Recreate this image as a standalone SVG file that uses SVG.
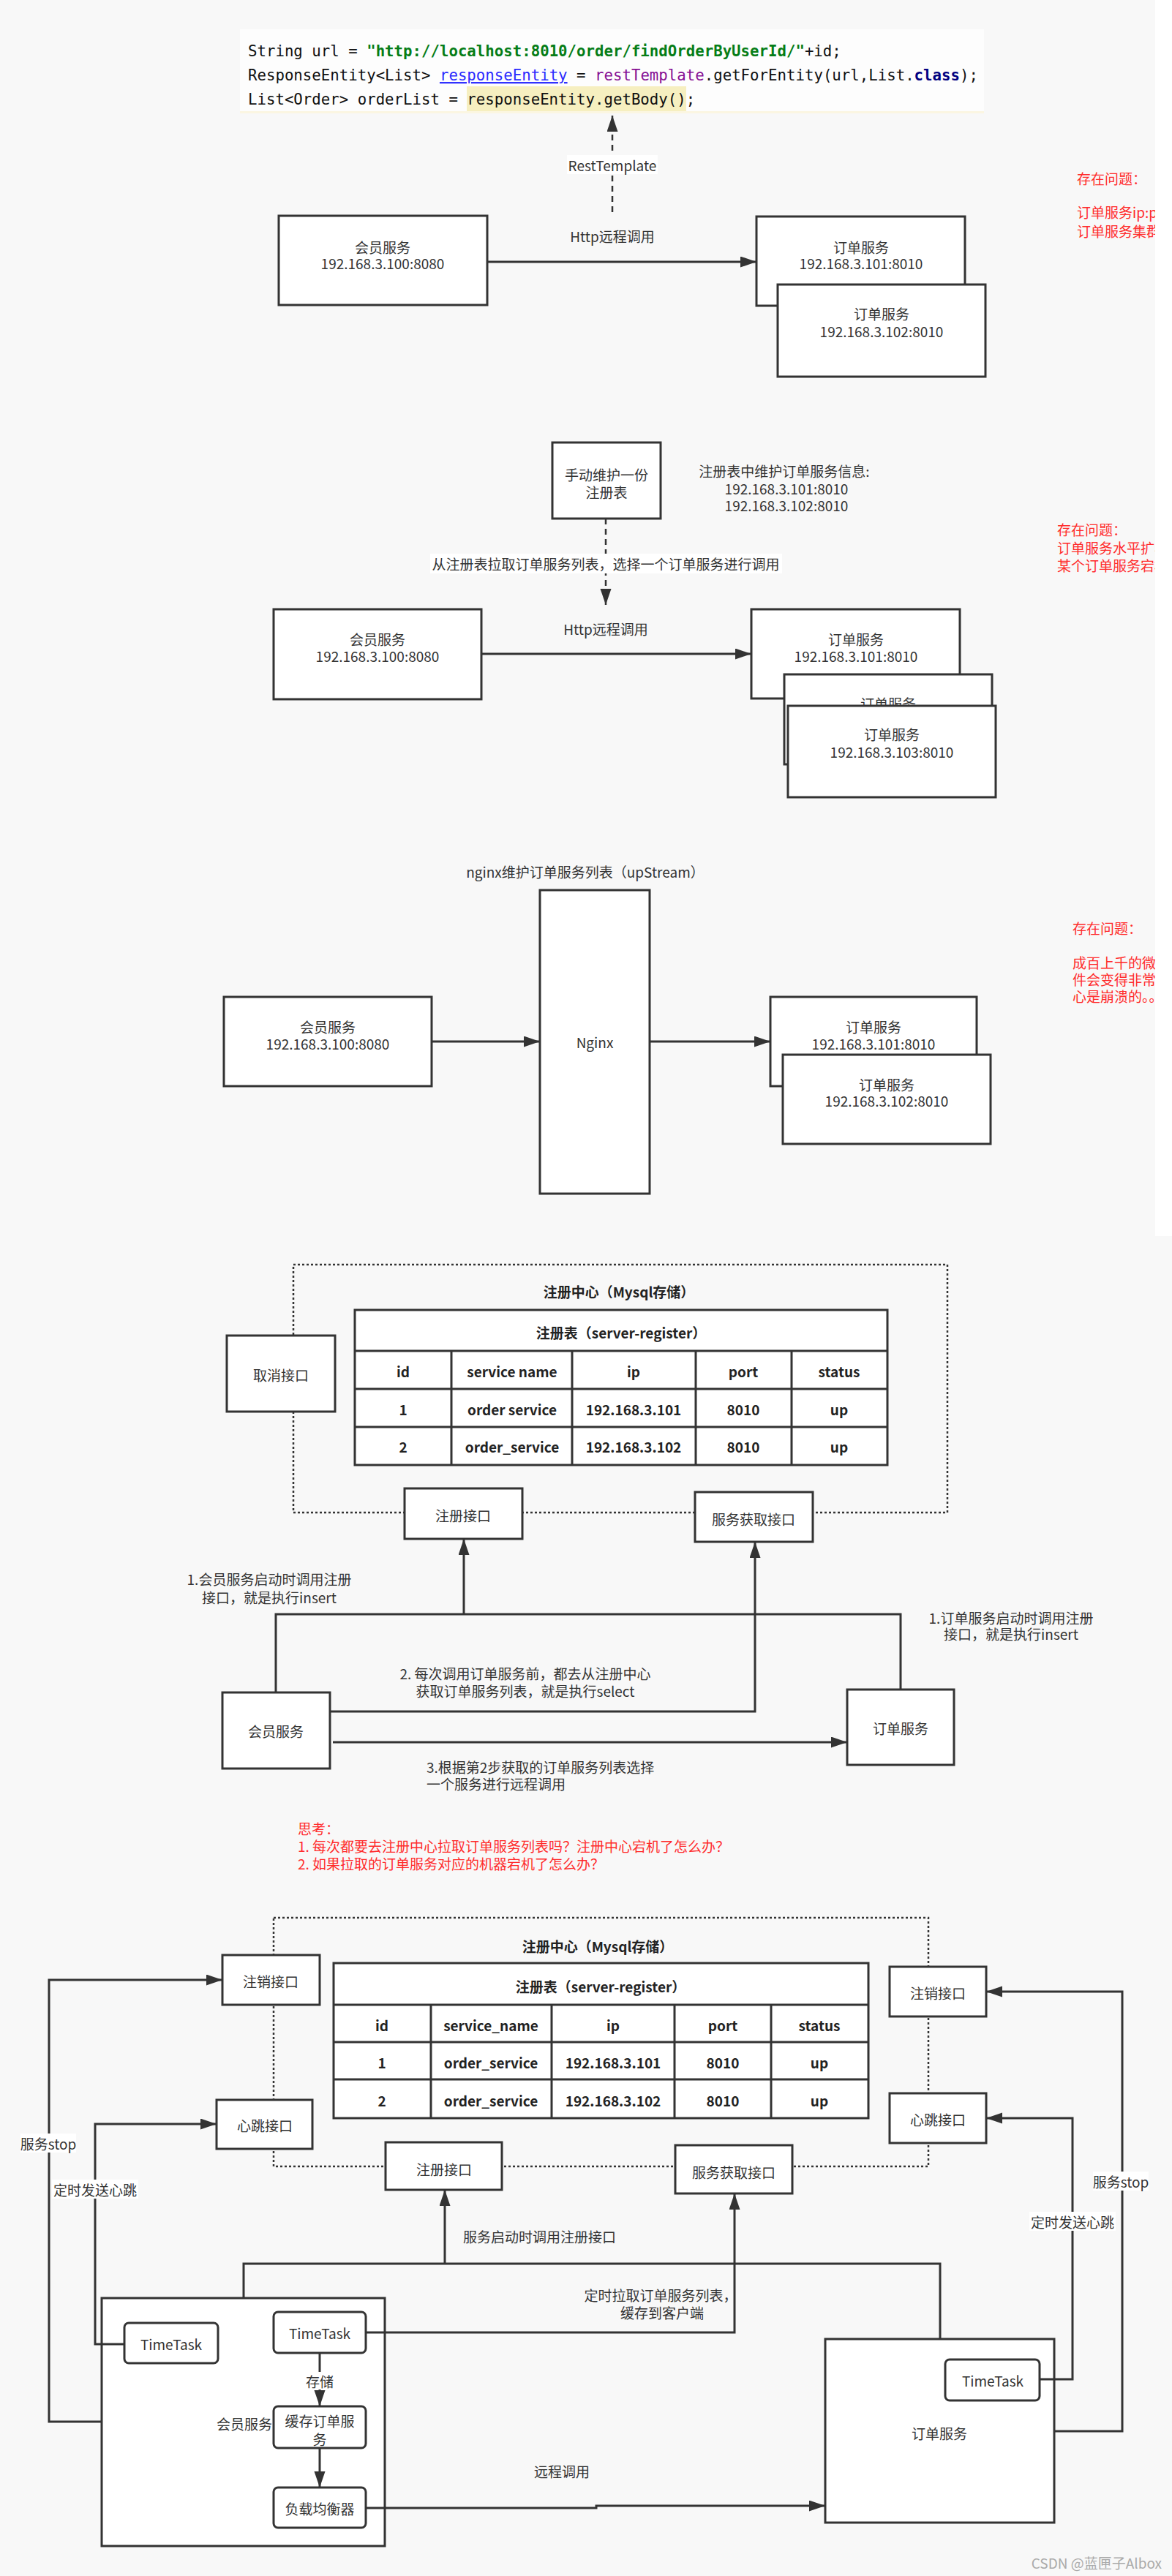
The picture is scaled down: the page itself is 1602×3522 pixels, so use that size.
<svg xmlns="http://www.w3.org/2000/svg" width="1602" height="3522" viewBox="0 0 1602 3522">
<defs>
<style>
.t{font-family:'Noto Sans CJK SC','Noto Sans',sans-serif;font-size:19px;fill:#333;text-anchor:middle;dominant-baseline:central}
.s{text-anchor:start}
.bd{font-weight:bold;fill:#222}
.red{fill:#ff2b2b}
.wm{fill:#aaa;text-anchor:end}
.box{fill:#fff;stroke:#333;stroke-width:3}
.rbox{fill:#fff;stroke:#333;stroke-width:3}
.ln{fill:none;stroke:#333;stroke-width:3}
.dot{fill:none;stroke:#333;stroke-width:2.5;stroke-dasharray:3 3}
.dash{fill:none;stroke:#333;stroke-width:2.5;stroke-dasharray:8 6}
.wb{fill:#fff}
.code{font-family:'DejaVu Sans Mono','Liberation Mono',monospace;font-size:22px;fill:#111}
</style>
<marker id="ah" markerWidth="24" markerHeight="16" refX="22" refY="7.5" orient="auto" markerUnits="userSpaceOnUse" viewBox="0 0 24 16"><path d="M0,0 L22,7.5 L0,15 z" fill="#333"/></marker>
</defs>
<rect width="1602" height="3522" fill="#f8f8f8"/>

<!-- ============ Section 1 ============ -->
<g id="code">
<rect x="328" y="40" width="1017" height="115" fill="#fdfdfd"/>
<rect x="638" y="118" width="300" height="34" fill="#f6efc0"/>
<rect x="328" y="152" width="1017" height="3" fill="#fbf6e2"/>
<g transform="translate(339,0) scale(0.9425,1)">
<text class="code" x="0" y="77">String url = <tspan fill="#067d17" font-weight="bold">"http://localhost:8010/order/findOrderByUserId/"</tspan>+id;</text>
<text class="code" x="0" y="110">ResponseEntity&lt;List&gt; <tspan fill="#2b2bff" text-decoration="underline">responseEntity</tspan> = <tspan fill="#871094">restTemplate</tspan>.getForEntity(url,List.<tspan fill="#000080" font-weight="bold">class</tspan>);</text>
<text class="code" x="0" y="143">List&lt;Order&gt; orderList = responseEntity.getBody();</text>
</g>
</g>

<g id="s1-member"><rect class="box" x="381" y="295" width="285" height="122"/><text class="t" x="523" y="337">会员服务</text><text class="t" x="523" y="359">192.168.3.100:8080</text></g>
<g id="s1-order1"><rect class="box" x="1034" y="296" width="285" height="122"/><text class="t" x="1177" y="337">订单服务</text><text class="t" x="1177" y="359">192.168.3.101:8010</text></g>
<g id="s1-order2"><rect class="box" x="1063" y="389" width="284" height="126"/><text class="t" x="1205" y="428">订单服务</text><text class="t" x="1205" y="452">192.168.3.102:8010</text></g>

<g id="s1-connectors">
<path class="dash" d="M837,290 V158" marker-end="url(#ah)"/>
<rect class="wb" x="775" y="212" width="124" height="26"/>
<text class="t" x="837" y="225">RestTemplate</text>
<path class="ln" d="M666,358 H1034" marker-end="url(#ah)"/>
<text class="t" x="837" y="322">Http远程调用</text>
</g>

<g id="s1-note">
<text class="t s red" x="1472" y="243">存在问题：</text>
<text class="t s red" x="1472" y="289">订单服务ip:p</text>
<text class="t s red" x="1472" y="315">订单服务集群</text>
</g>

<!-- ============ Section 2 ============ -->
<g id="s2-registry"><rect class="box" x="755" y="605" width="148" height="104"/><text class="t" x="829" y="648">手动维护一份</text><text class="t" x="829" y="672">注册表</text></g>
<g id="s2-info">
<text class="t" x="1072" y="643">注册表中维护订单服务信息:</text>
<text class="t" x="1075" y="667">192.168.3.101:8010</text>
<text class="t" x="1075" y="690">192.168.3.102:8010</text>
</g>
<g id="s2-member"><rect class="box" x="374" y="833" width="284" height="123"/><text class="t" x="516" y="873">会员服务</text><text class="t" x="516" y="896">192.168.3.100:8080</text></g>
<g id="s2-order1"><rect class="box" x="1027" y="833" width="285" height="122"/><text class="t" x="1170" y="873">订单服务</text><text class="t" x="1170" y="896">192.168.3.101:8010</text></g>
<g id="s2-order2"><rect class="box" x="1072" y="922" width="284" height="123"/><text class="t" x="1214" y="961">订单服务</text></g>
<g id="s2-order3"><rect class="box" x="1077" y="965" width="284" height="125"/><text class="t" x="1219" y="1003">订单服务</text><text class="t" x="1219" y="1027">192.168.3.103:8010</text></g>
<g id="s2-connectors">
<path class="dash" d="M828,709 V827" marker-end="url(#ah)"/>
<rect class="wb" x="588" y="757" width="481" height="27"/>
<text class="t" x="828" y="770">从注册表拉取订单服务列表，选择一个订单服务进行调用</text>
<path class="ln" d="M658,894 H1027" marker-end="url(#ah)"/>
<text class="t" x="828" y="859">Http远程调用</text>
</g>
<g id="s2-note">
<text class="t s red" x="1445" y="723">存在问题：</text>
<text class="t s red" x="1445" y="748">订单服务水平扩容</text>
<text class="t s red" x="1445" y="772">某个订单服务宕机</text>
</g>

<!-- ============ Section 3 ============ -->
<text class="t" x="800" y="1191">nginx维护订单服务列表（upStream）</text>
<g id="s3-nginx"><rect class="box" x="738" y="1217" width="150" height="415"/><text class="t" x="813" y="1424">Nginx</text></g>
<g id="s3-member"><rect class="box" x="306" y="1363" width="284" height="122"/><text class="t" x="448" y="1403">会员服务</text><text class="t" x="448" y="1426">192.168.3.100:8080</text></g>
<g id="s3-order1"><rect class="box" x="1053" y="1363" width="282" height="122"/><text class="t" x="1194" y="1403">订单服务</text><text class="t" x="1194" y="1426">192.168.3.101:8010</text></g>
<g id="s3-order2"><rect class="box" x="1070" y="1442" width="284" height="122"/><text class="t" x="1212" y="1482">订单服务</text><text class="t" x="1212" y="1504">192.168.3.102:8010</text></g>
<g id="s3-connectors">
<path class="ln" d="M590,1424 H738" marker-end="url(#ah)"/>
<path class="ln" d="M888,1424 H1053" marker-end="url(#ah)"/>
</g>
<g id="s3-note">
<text class="t s red" x="1466" y="1268">存在问题：</text>
<text class="t s red" x="1466" y="1315">成百上千的微服</text>
<text class="t s red" x="1466" y="1338">件会变得非常复</text>
<text class="t s red" x="1466" y="1361">心是崩溃的。。</text>
</g>
<rect x="1579" y="0" width="23" height="1690" fill="#fff"/>

<!-- ============ Section 4 ============ -->
<g id="s4-center">
<rect class="dot" x="401" y="1729" width="894" height="339"/>
<text class="t bd" x="846" y="1765">注册中心（Mysql存储）</text>
</g>
<g id="s4-table">
<rect class="box" x="485" y="1791" width="728" height="212"/>
<path class="ln" d="M485,1847 H1213 M485,1899 H1213 M485,1951 H1213 M617,1847 V2003 M782,1847 V2003 M951,1847 V2003 M1082,1847 V2003"/>
<text class="t bd" x="849" y="1821">注册表（server-register）</text>
<text class="t bd" x="551" y="1874">id</text><text class="t bd" x="700" y="1874">service name</text><text class="t bd" x="866" y="1874">ip</text><text class="t bd" x="1016" y="1874">port</text><text class="t bd" x="1147" y="1874">status</text>
<text class="t bd" x="551" y="1926">1</text><text class="t bd" x="700" y="1926">order service</text><text class="t bd" x="866" y="1926">192.168.3.101</text><text class="t bd" x="1016" y="1926">8010</text><text class="t bd" x="1147" y="1926">up</text>
<text class="t bd" x="551" y="1977">2</text><text class="t bd" x="700" y="1977">order_service</text><text class="t bd" x="866" y="1977">192.168.3.102</text><text class="t bd" x="1016" y="1977">8010</text><text class="t bd" x="1147" y="1977">up</text>
</g>
<g id="s4-cancel"><rect class="box" x="310" y="1826" width="148" height="104"/><text class="t" x="384" y="1879">取消接口</text></g>
<g id="s4-register"><rect class="box" x="553" y="2035" width="161" height="69"/><text class="t" x="633" y="2071">注册接口</text></g>
<g id="s4-fetch"><rect class="box" x="950" y="2040" width="161" height="68"/><text class="t" x="1030" y="2076">服务获取接口</text></g>
<g id="s4-member"><rect class="box" x="304" y="2314" width="147" height="104"/><text class="t" x="377" y="2366">会员服务</text></g>
<g id="s4-order"><rect class="box" x="1158" y="2310" width="146" height="103"/><text class="t" x="1231" y="2362">订单服务</text></g>
<g id="s4-connectors">
<path class="ln" d="M377,2314 V2207 H1231 V2310"/>
<path class="ln" d="M634,2207 V2104" marker-end="url(#ah)"/>
<path class="ln" d="M451,2340 H1032 V2108" marker-end="url(#ah)"/>
<path class="ln" d="M455,2382 H1158" marker-end="url(#ah)"/>
<text class="t" x="368" y="2158">1.会员服务启动时调用注册</text>
<text class="t" x="368" y="2183">接口，就是执行insert</text>
<text class="t" x="1382" y="2211">1.订单服务启动时调用注册</text>
<text class="t" x="1382" y="2233">接口，就是执行insert</text>
<text class="t" x="718" y="2287">2. 每次调用订单服务前，都去从注册中心</text>
<text class="t" x="718" y="2311">获取订单服务列表，就是执行select</text>
<text class="t s" x="583" y="2415">3.根据第2步获取的订单服务列表选择</text>
<text class="t s" x="583" y="2438">一个服务进行远程调用</text>
</g>
<g id="s4-think">
<text class="t s red" x="407" y="2499">思考：</text>
<text class="t s red" x="407" y="2523">1. 每次都要去注册中心拉取订单服务列表吗？注册中心宕机了怎么办？</text>
<text class="t s red" x="407" y="2547">2.  如果拉取的订单服务对应的机器宕机了怎么办？</text>
</g>

<!-- ============ Section 5 ============ -->
<g id="s5-center">
<rect class="dot" x="374" y="2622" width="895" height="340"/>
<text class="t bd" x="817" y="2660">注册中心（Mysql存储）</text>
</g>
<g id="s5-table">
<rect class="box" x="456" y="2684" width="731" height="212"/>
<path class="ln" d="M456,2741 H1187 M456,2792 H1187 M456,2843 H1187 M589,2741 V2896 M754,2741 V2896 M922,2741 V2896 M1054,2741 V2896"/>
<text class="t bd" x="821" y="2715">注册表（server-register）</text>
<text class="t bd" x="522" y="2768">id</text><text class="t bd" x="671" y="2768">service_name</text><text class="t bd" x="838" y="2768">ip</text><text class="t bd" x="988" y="2768">port</text><text class="t bd" x="1120" y="2768">status</text>
<text class="t bd" x="522" y="2819">1</text><text class="t bd" x="671" y="2819">order_service</text><text class="t bd" x="838" y="2819">192.168.3.101</text><text class="t bd" x="988" y="2819">8010</text><text class="t bd" x="1120" y="2819">up</text>
<text class="t bd" x="522" y="2871">2</text><text class="t bd" x="671" y="2871">order_service</text><text class="t bd" x="838" y="2871">192.168.3.102</text><text class="t bd" x="988" y="2871">8010</text><text class="t bd" x="1120" y="2871">up</text>
</g>
<g id="s5-dereg-l"><rect class="box" x="304" y="2673" width="133" height="68"/><text class="t" x="370" y="2708">注销接口</text></g>
<g id="s5-heart-l"><rect class="box" x="296" y="2871" width="131" height="67"/><text class="t" x="362" y="2905">心跳接口</text></g>
<g id="s5-register"><rect class="box" x="527" y="2929" width="159" height="65"/><text class="t" x="607" y="2965">注册接口</text></g>
<g id="s5-fetch"><rect class="box" x="923" y="2933" width="160" height="66"/><text class="t" x="1003" y="2969">服务获取接口</text></g>
<g id="s5-dereg-r"><rect class="box" x="1216" y="2689" width="132" height="68"/><text class="t" x="1282" y="2724">注销接口</text></g>
<g id="s5-heart-r"><rect class="box" x="1216" y="2862" width="132" height="68"/><text class="t" x="1282" y="2897">心跳接口</text></g>

<g id="s5-member">
<rect class="box" x="139" y="3142" width="387" height="339"/>
<text class="t" x="334" y="3313">会员服务</text>
</g>
<g id="s5-timetask-l"><rect class="rbox" x="170" y="3176" width="128" height="55" rx="6"/><text class="t" x="234" y="3204">TimeTask</text></g>
<g id="s5-timetask-m"><rect class="rbox" x="374" y="3161" width="126" height="56" rx="6"/><text class="t" x="437" y="3189">TimeTask</text></g>
<g id="s5-cache"><rect class="rbox" x="374" y="3290" width="126" height="57" rx="6"/><text class="t" x="437" y="3309">缓存订单服</text><text class="t" x="437" y="3334">务</text></g>
<g id="s5-lb"><rect class="rbox" x="374" y="3401" width="126" height="55" rx="6"/><text class="t" x="437" y="3429">负载均衡器</text></g>
<g id="s5-order">
<rect class="box" x="1128" y="3198" width="313" height="251"/>
<text class="t" x="1284" y="3326">订单服务</text>
</g>
<g id="s5-timetask-r"><rect class="rbox" x="1292" y="3226" width="129" height="56" rx="6"/><text class="t" x="1357" y="3254">TimeTask</text></g>

<g id="s5-connectors">
<path class="ln" d="M333,3142 V3095 H1285 V3198"/>
<path class="ln" d="M608,3095 V2994" marker-end="url(#ah)"/>
<path class="ln" d="M500,3189 H1004 V2999" marker-end="url(#ah)"/>
<path class="ln" d="M437,3217 V3290" marker-end="url(#ah)"/>
<path class="ln" d="M437,3347 V3401" marker-end="url(#ah)"/>
<path class="ln" d="M500,3429 H815 V3426 H1128" marker-end="url(#ah)"/>
<path class="ln" d="M139,3311 H67 V2707 H304" marker-end="url(#ah)"/>
<path class="ln" d="M170,3205 H130 V2904 H296" marker-end="url(#ah)"/>
<path class="ln" d="M1441,3324 H1534 V2723 H1348" marker-end="url(#ah)"/>
<path class="ln" d="M1421,3253 H1466 V2896 H1348" marker-end="url(#ah)"/>
<rect class="wb" x="415" y="3243" width="44" height="24"/>
<text class="t" x="437" y="3255">存储</text>
<text class="t s" x="633" y="3057">服务启动时调用注册接口</text>
<text class="t" x="903" y="3137">定时拉取订单服务列表，</text>
<text class="t" x="905" y="3161">缓存到客户端</text>
<text class="t" x="768" y="3378">远程调用</text>
<rect class="wb" x="28" y="2917" width="76" height="26"/>
<text class="t" x="66" y="2930">服务stop</text>
<rect class="wb" x="71" y="2980" width="118" height="26"/>
<text class="t" x="130" y="2993">定时发送心跳</text>
<rect class="wb" x="1494" y="2969" width="76" height="26"/>
<text class="t" x="1532" y="2982">服务stop</text>
<rect class="wb" x="1407" y="3024" width="118" height="26"/>
<text class="t" x="1466" y="3037">定时发送心跳</text>
</g>
<text class="t wm" x="1588" y="3503">CSDN @蓝匣子Albox</text>
</svg>
